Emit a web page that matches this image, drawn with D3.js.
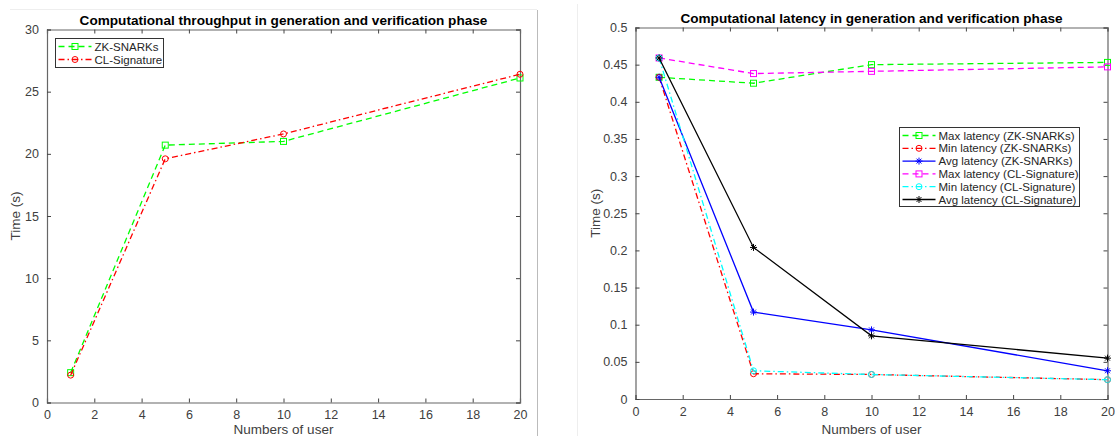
<!DOCTYPE html>
<html><head><meta charset="utf-8">
<script src="https://cdn.jsdelivr.net/npm/d3@7"></script>
<style>body{margin:0;background:#fff;}svg{display:block;font-family:"Liberation Sans",Arial,sans-serif;}</style>
</head><body>
<svg id="c" width="1115" height="436"></svg>
<script>
const users = [1, 5, 10, 20];
// Left chart: throughput
const thrZK = [2.4, 20.7, 21.0, 26.1];
const thrCL = [2.2, 19.6, 21.6, 26.4];
const thrTicksY = [0, 5, 10, 15, 20, 25, 30];
// Right chart: latency
const maxZK = [0.433, 0.425, 0.450, 0.453];
const minZK = [0.433, 0.034, 0.033, 0.026];
const avgZK = [0.433, 0.117, 0.093, 0.038];
const maxCL = [0.459, 0.438, 0.441, 0.447];
const minCL = [0.459, 0.038, 0.033, 0.026];
const avgCL = [0.459, 0.204, 0.085, 0.055];
const latTicksY = [0, 0.05, 0.1, 0.15, 0.2, 0.25, 0.3, 0.35, 0.4, 0.45, 0.5];
const xTicks = [0, 2, 4, 6, 8, 10, 12, 14, 16, 18, 20];

const svg = d3.select("#c");
// separators
svg.append("line").attr("x1",537.5).attr("x2",537.5).attr("y1",10).attr("y2",436).attr("stroke","#bbb").attr("stroke-width",1);
svg.append("line").attr("x1",577.5).attr("x2",577.5).attr("y1",4).attr("y2",436).attr("stroke","#eee").attr("stroke-width",1);
svg.append("line").attr("x1",10).attr("x2",537).attr("y1",9.5).attr("y2",9.5).attr("stroke","#eee").attr("stroke-width",1);

const styles = {
  dash: "6,4",
  dashdot: "6,3,1.5,3",
  solid: null
};

function marker(g, type, x, y, color) {
  if (type === "square") {
    g.append("rect").attr("x", x-3).attr("y", y-3).attr("width", 6).attr("height", 6)
      .attr("fill", "none").attr("stroke", color).attr("stroke-width", 1);
  } else if (type === "circle") {
    g.append("circle").attr("cx", x).attr("cy", y).attr("r", 3)
      .attr("fill", "none").attr("stroke", color).attr("stroke-width", 1);
  } else if (type === "star") {
    const r = 3.5;
    [[-r,0,r,0],[0,-r,0,r],[-r*0.7,-r*0.7,r*0.7,r*0.7],[-r*0.7,r*0.7,r*0.7,-r*0.7]].forEach(s=>{
      g.append("line").attr("x1",x+s[0]).attr("y1",y+s[1]).attr("x2",x+s[2]).attr("y2",y+s[3])
        .attr("stroke",color).attr("stroke-width",1);
    });
  }
}

function chart(opt) {
  const x = d3.scaleLinear().domain([0,20]).range([opt.left, opt.right]);
  const y = d3.scaleLinear().domain(opt.ydom).range([opt.bottom, opt.top]);
  const g = svg.append("g");
  const txtColor = "#404040";
  const xb = g.append("g").attr("transform",`translate(0,${opt.bottom})`)
    .call(d3.axisBottom(x).tickValues(xTicks).tickSize(-4).tickPadding(8).tickFormat(d3.format("d")));
  const xt = g.append("g").attr("transform",`translate(0,${opt.top})`)
    .call(d3.axisTop(x).tickValues(xTicks).tickSize(-4).tickFormat(""));
  const yl = g.append("g").attr("transform",`translate(${opt.left},0)`)
    .call(d3.axisLeft(y).tickValues(opt.yticks).tickSize(-4).tickPadding(8).tickFormat(opt.yfmt));
  const yr = g.append("g").attr("transform",`translate(${opt.right},0)`)
    .call(d3.axisRight(y).tickValues(opt.yticks).tickSize(-4).tickFormat(""));
  [xb,xt,yl,yr].forEach(a=>{
    a.select(".domain").attr("stroke","#666").attr("stroke-width",1.2);
    a.selectAll(".tick line").attr("stroke","#444");
    a.selectAll("text").attr("fill",txtColor).attr("font-size",12.5).attr("font-family","Liberation Sans, Arial, sans-serif");
  });
  g.append("text").attr("x",(opt.left+opt.right)/2).attr("y",opt.top-5).attr("text-anchor","middle")
    .attr("font-size",13.6).attr("font-weight","bold").attr("fill","#000").text(opt.title);
  g.append("text").attr("x",(opt.left+opt.right)/2).attr("y",434).attr("text-anchor","middle")
    .attr("font-size",13.5).attr("fill",txtColor).text("Numbers of user");
  g.append("text").attr("transform",`translate(${opt.ylabX},${(opt.top+opt.bottom)/2}) rotate(-90)`)
    .attr("text-anchor","middle").attr("font-size",13.5).attr("fill",txtColor).text("Time (s)");

  const line = d3.line().x((d,i)=>x(users[i])).y(d=>y(d));
  opt.series.forEach(s=>{
    g.append("path").attr("d", line(s.values)).attr("fill","none").attr("stroke", s.color)
      .attr("stroke-width",1.3).attr("stroke-dasharray", styles[s.dash]);
    s.values.forEach((v,i)=>marker(g, s.marker, x(users[i]), y(v), s.color));
  });
  const L = opt.legend;
  g.append("rect").attr("x",L.x).attr("y",L.y).attr("width",L.w).attr("height",L.h)
    .attr("fill","#fff").attr("stroke","#333").attr("stroke-width",1);
  opt.series.forEach((s,i)=>{
    const yy = L.y + L.pad + i*L.step;
    g.append("line").attr("x1",L.x+3).attr("x2",L.x+36).attr("y1",yy).attr("y2",yy)
      .attr("stroke",s.color).attr("stroke-width",1.3).attr("stroke-dasharray",styles[s.dash]);
    marker(g, s.marker, L.x+19.5, yy, s.color);
    g.append("text").attr("x",L.x+39).attr("y",yy+4).attr("font-size",11.5).attr("fill","#262626").text(s.name);
  });
}

chart({
  left:47, right:520, top:29.5, bottom:402.5, ydom:[0,30], yticks:thrTicksY, yfmt:d3.format("d"), ylabX:20,
  title:"Computational throughput in generation and verification phase",
  series:[
    {name:"ZK-SNARKs", values:thrZK, color:"#00ff00", dash:"dash", marker:"square"},
    {name:"CL-Signature", values:thrCL, color:"#ff0000", dash:"dashdot", marker:"circle"}
  ],
  legend:{x:55.5, y:38.5, w:108, h:29, pad:8, step:13}
});

chart({
  left:635.5, right:1107.5, top:27.5, bottom:399, ydom:[0,0.5], yticks:latTicksY, yfmt:d=>d3.format("")(+d.toFixed(2)), ylabX:600,
  title:"Computational latency in generation and verification phase",
  series:[
    {name:"Max latency (ZK-SNARKs)", values:maxZK, color:"#00ff00", dash:"dash", marker:"square"},
    {name:"Min latency (ZK-SNARKs)", values:minZK, color:"#ff0000", dash:"dashdot", marker:"circle"},
    {name:"Avg latency (ZK-SNARKs)", values:avgZK, color:"#0000ff", dash:"solid", marker:"star"},
    {name:"Max latency (CL-Signature)", values:maxCL, color:"#ff00ff", dash:"dash", marker:"square"},
    {name:"Min latency (CL-Signature)", values:minCL, color:"#00ffff", dash:"dashdot", marker:"circle"},
    {name:"Avg latency (CL-Signature)", values:avgCL, color:"#000000", dash:"solid", marker:"star"}
  ],
  legend:{x:899.5, y:127.5, w:180, h:79, pad:8, step:12.8}
});
</script>
</body></html>
